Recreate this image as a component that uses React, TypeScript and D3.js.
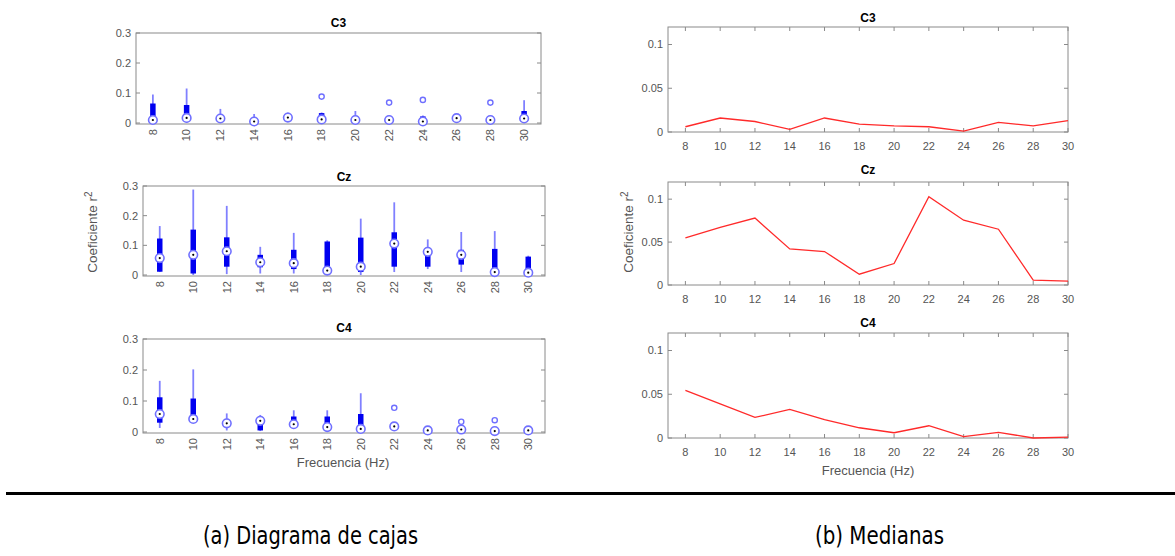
import React from 'react';
import * as d3 from 'd3';

const freqs = [8, 10, 12, 14, 16, 18, 20, 22, 24, 26, 28, 30];
const boxYTicks = [0, 0.1, 0.2, 0.3];
const medYTicks = [0, 0.05, 0.1];

// [whiskerLow, q1, median, q3, whiskerHigh]
const c3Stats = [
  [0, 0.003, 0.01, 0.065, 0.095],
  [0, 0.01, 0.017, 0.06, 0.115],
  [0.003, 0.008, 0.015, 0.022, 0.047],
  [0, 0.002, 0.005, 0.01, 0.03],
  [0.005, 0.01, 0.018, 0.022, 0.035],
  [0, 0.005, 0.012, 0.033, 0.035],
  [0, 0.003, 0.01, 0.015, 0.04],
  [0, 0.003, 0.01, 0.022, 0.025],
  [0, 0.001, 0.005, 0.022, 0.025],
  [0.008, 0.012, 0.016, 0.02, 0.022],
  [0, 0.003, 0.01, 0.02, 0.025],
  [0, 0.008, 0.015, 0.04, 0.076],
];
const c3Outliers = [[], [], [], [], [], [0.088], [], [0.068], [0.077], [], [0.068], []];

const czStats = [
  [0.01, 0.011, 0.057, 0.123, 0.165],
  [0, 0.005, 0.068, 0.153, 0.288],
  [0.003, 0.028, 0.08, 0.127, 0.233],
  [0.005, 0.026, 0.043, 0.068, 0.095],
  [0.005, 0.02, 0.04, 0.085, 0.142],
  [0, 0.003, 0.015, 0.113, 0.117],
  [0, 0.01, 0.028, 0.126, 0.19],
  [0.01, 0.028, 0.106, 0.144, 0.245],
  [0.02, 0.028, 0.078, 0.088, 0.12],
  [0.01, 0.035, 0.068, 0.085, 0.145],
  [0, 0.003, 0.01, 0.088, 0.148],
  [0, 0.003, 0.008, 0.062, 0.065],
];
const czOutliers = [[], [], [], [], [], [], [], [], [], [], [], []];

const c4Stats = [
  [0.013, 0.03, 0.058, 0.112, 0.165],
  [0.035, 0.038, 0.042, 0.108, 0.202],
  [0.005, 0.018, 0.028, 0.035, 0.06],
  [0.003, 0.005, 0.036, 0.045, 0.055],
  [0.01, 0.018, 0.025, 0.05, 0.07],
  [0.003, 0.008, 0.016, 0.05, 0.07],
  [0, 0.003, 0.01, 0.058, 0.125],
  [0.01, 0.012, 0.018, 0.028, 0.03],
  [0, 0.002, 0.005, 0.007, 0.009],
  [0.002, 0.004, 0.008, 0.012, 0.015],
  [0, 0.001, 0.003, 0.004, 0.005],
  [0, 0.002, 0.005, 0.006, 0.007],
];
const c4Outliers = [[], [], [], [], [], [], [], [0.078], [], [0.033], [0.038], []];

const c3Medians = [0.006, 0.016, 0.012, 0.003, 0.016, 0.009, 0.007, 0.006, 0.001, 0.011, 0.007, 0.013];
const czMedians = [0.055, 0.067, 0.078, 0.042, 0.039, 0.0126, 0.025, 0.103, 0.0755, 0.065, 0.0057, 0.0046];
const c4Medians = [0.0545, 0.039, 0.0235, 0.0326, 0.021, 0.0117, 0.006, 0.014, 0.0015, 0.0065, 0, 0.001];

const FONT = "'Liberation Sans', Arial, Helvetica, sans-serif";
const CAPFONT = "'DejaVu Sans Condensed', 'Liberation Sans Narrow', 'DejaVu Sans', sans-serif";
const FRAME = '#8a8a8a';
const TICKTXT = '#555';

const leftPanels = [
  { title: 'C3', stats: c3Stats, outliers: c3Outliers, x0: 136, x1: 541, y0: 33, y1: 124, zero: 123, titleY: 23 },
  { title: 'Cz', stats: czStats, outliers: czOutliers, x0: 143, x1: 545, y0: 186, y1: 276, zero: 275, titleY: 177 },
  { title: 'C4', stats: c4Stats, outliers: c4Outliers, x0: 143, x1: 545, y0: 339, y1: 433, zero: 432, titleY: 328 },
];

const rightPanels = [
  { title: 'C3', values: c3Medians, x0: 668, x1: 1068, y0: 27, y1: 132, titleY: 18 },
  { title: 'Cz', values: czMedians, x0: 668, x1: 1068, y0: 182, y1: 285, titleY: 170 },
  { title: 'C4', values: c4Medians, x0: 668, x1: 1068, y0: 333, y1: 438, titleY: 323 },
];

function BoxPanel({ p }: { p: any }) {
  const x = d3.scaleLinear().domain([0.5, freqs.length + 0.5]).range([p.x0, p.x1]);
  const y = d3.scaleLinear().domain([0, 0.3]).range([p.zero, p.y0]);
  const cx = (p.x0 + p.x1) / 2;
  return (
    <g>
      <text x={cx} y={p.titleY} dy="0.35em" textAnchor="middle" fontFamily={FONT} fontWeight="bold" fontSize={12} fill="#000">{p.title}</text>
      <rect x={p.x0} y={p.y0} width={p.x1 - p.x0} height={p.y1 - p.y0} fill="#fff" stroke={FRAME} strokeWidth={1} />
      {boxYTicks.map((t) => (
        <g key={t}>
          <line x1={p.x0} x2={p.x0 + 4} y1={y(t)} y2={y(t)} stroke={FRAME} />
          <line x1={p.x1} x2={p.x1 - 4} y1={y(t)} y2={y(t)} stroke={FRAME} />
          <text x={p.x0 - 5} y={y(t)} dy="0.35em" textAnchor="end" fontFamily={FONT} fontSize={11} fill={TICKTXT}>{t === 0 ? '0' : d3.format('.1f')(t)}</text>
        </g>
      ))}
      {freqs.map((f, i) => (
        <text key={f} transform={`translate(${x(i + 1)},${p.y1 + 5}) rotate(-90)`} dy="0.35em" textAnchor="end" fontFamily={FONT} fontSize={11} fill={TICKTXT}>{f}</text>
      ))}
      {p.stats.map((s: number[], i: number) => {
        const xi = x(i + 1);
        return (
          <g key={i}>
            <line x1={xi} x2={xi} y1={y(s[0])} y2={y(s[4])} stroke="#8080ff" strokeWidth={1.8} />
            <line x1={xi} x2={xi} y1={y(s[1])} y2={y(s[3])} stroke="#0000f0" strokeWidth={5.5} />
            <circle cx={xi} cy={y(s[2])} r={4.3} fill="#fff" stroke="#7070ff" strokeWidth={1.6} />
            <circle cx={xi} cy={y(s[2])} r={1.1} fill="#000" />
            {p.outliers[i].map((o: number, k: number) => (
              <circle key={k} cx={xi} cy={y(o)} r={2.6} fill="none" stroke="#6f6fff" strokeWidth={1.4} />
            ))}
          </g>
        );
      })}
    </g>
  );
}

function MedPanel({ p }: { p: any }) {
  const x = d3.scaleLinear().domain([7, 30]).range([p.x0, p.x1]);
  const y = d3.scaleLinear().domain([0, 0.12]).range([p.y1, p.y0]);
  const line = d3.line<number>().x((_, i) => x(freqs[i])).y((d) => y(d));
  const cx = (p.x0 + p.x1) / 2;
  return (
    <g>
      <text x={cx} y={p.titleY} dy="0.35em" textAnchor="middle" fontFamily={FONT} fontWeight="bold" fontSize={12} fill="#000">{p.title}</text>
      <rect x={p.x0} y={p.y0} width={p.x1 - p.x0} height={p.y1 - p.y0} fill="#fff" stroke={FRAME} strokeWidth={1} />
      {medYTicks.map((t) => (
        <g key={t}>
          <line x1={p.x0} x2={p.x0 + 4} y1={y(t)} y2={y(t)} stroke={FRAME} />
          <line x1={p.x1} x2={p.x1 - 4} y1={y(t)} y2={y(t)} stroke={FRAME} />
          <text x={p.x0 - 5} y={y(t)} dy="0.35em" textAnchor="end" fontFamily={FONT} fontSize={11} fill={TICKTXT}>{t === 0 ? '0' : String(t)}</text>
        </g>
      ))}
      {freqs.map((f) => (
        <g key={f}>
          <line x1={x(f)} x2={x(f)} y1={p.y1} y2={p.y1 - 4} stroke={FRAME} />
          <line x1={x(f)} x2={x(f)} y1={p.y0} y2={p.y0 + 4} stroke={FRAME} />
          <text x={x(f)} y={p.y1 + 14} dy="0.35em" textAnchor="middle" fontFamily={FONT} fontSize={11} fill={TICKTXT}>{f}</text>
        </g>
      ))}
      <path d={line(p.values) || ''} fill="none" stroke="#ff2a2a" strokeWidth={1.3} />
    </g>
  );
}

function YLabel({ x, y }: { x: number; y: number }) {
  return (
    <text transform={`translate(${x},${y}) rotate(-90)`} dy="0.35em" textAnchor="middle" fontFamily={FONT} fontSize={13.5} fill={TICKTXT}>
      Coeficiente r<tspan fontSize={10} dy="-0.5em">2</tspan>
    </text>
  );
}

export default function App() {
  return (
    <svg width={1175} height={556} style={{ position: 'absolute', left: 0, top: 0, background: '#fff' }}>
      <rect x={0} y={0} width={1175} height={556} fill="#fff" />
      {leftPanels.map((p) => <BoxPanel key={p.title} p={p} />)}
      {rightPanels.map((p) => <MedPanel key={p.title} p={p} />)}
      <YLabel x={92} y={232} />
      <YLabel x={628} y={232} />
      <text x={343} y={462} dy="0.35em" textAnchor="middle" fontFamily={FONT} fontSize={13} fill={TICKTXT}>Frecuencia (Hz)</text>
      <text x={868} y={470} dy="0.35em" textAnchor="middle" fontFamily={FONT} fontSize={13} fill={TICKTXT}>Frecuencia (Hz)</text>
      <line x1={6} x2={1175} y1={493.5} y2={493.5} stroke="#000" strokeWidth={3} />
      <text x={203} y={535} dy="0.35em" fontFamily={CAPFONT} fontSize={25} fill="#000" textLength={215} lengthAdjust="spacingAndGlyphs">(a) Diagrama de cajas</text>
      <text x={815} y={535} dy="0.35em" fontFamily={CAPFONT} fontSize={25} fill="#000" textLength={129} lengthAdjust="spacingAndGlyphs">(b) Medianas</text>
    </svg>
  );
}
